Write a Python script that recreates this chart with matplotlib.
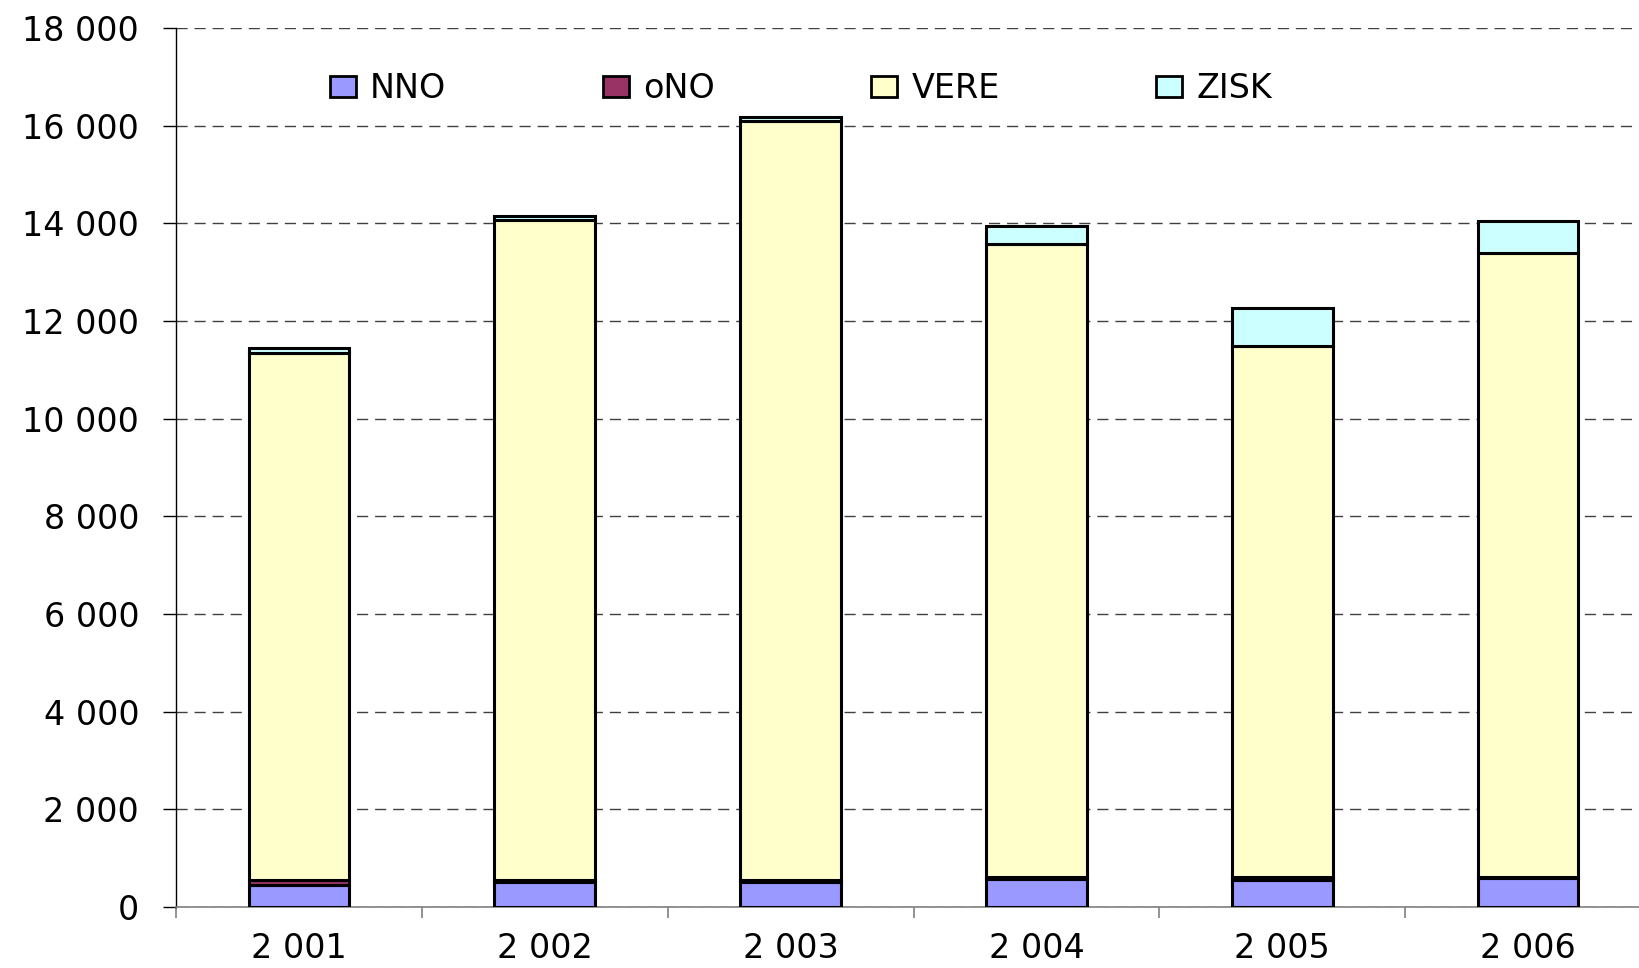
import numpy as np
import matplotlib.pyplot as plt
from matplotlib.ticker import FuncFormatter

years = ["2 001", "2 002", "2 003", "2 004", "2 005", "2 006"]
nno = [460, 512, 520, 567, 561, 594]
ono = [90, 40, 30, 50, 50, 12]
vere = [10796, 13516, 15540, 12961, 10873, 12784]
zisk = [110, 86, 95, 368, 778, 655]

names = ["NNO", "oNO", "VERE", "ZISK"]
colors = ["#9999FF", "#993366", "#FFFFCC", "#CCFFFF"]

plt.rcParams['font.family'] = ['DejaVu Sans']

fig = plt.figure(figsize=(16.39, 9.68), dpi=100)
ax = fig.add_axes([176 / 1639, 61 / 968, 1475 / 1639, 879 / 968])

x = np.arange(len(years))
bottom = np.zeros(len(years))
for name, vals, col in zip(names, [nno, ono, vere, zisk], colors):
    ax.bar(x, vals, 0.41, bottom=bottom, color=col, edgecolor='black',
           linewidth=2.2, label=name, zorder=3)
    bottom += np.array(vals)

ax.set_xlim(-0.5, 5.5)
ax.set_ylim(0, 18000)
ax.set_yticks(np.arange(0, 18001, 2000))
ax.yaxis.set_major_formatter(FuncFormatter(lambda v, p: f"{int(v):,}".replace(",", " ")))
ax.yaxis.grid(True, linestyle=(0, (8, 5)), color='#404040', linewidth=1, zorder=0)

ax.set_xticks(x)
ax.set_xticklabels(years)
ax.set_xticks(np.arange(-0.5, 6, 1), minor=True)
ax.tick_params(axis='x', which='major', length=0, pad=18, labelsize=24)
ax.tick_params(axis='x', which='minor', length=8, width=1.2, color='#808080')
ax.tick_params(axis='y', length=9.5, width=1, color='black', labelsize=24, pad=17)

for s in ['top', 'right']:
    ax.spines[s].set_visible(False)
ax.spines['left'].set_color('black')
ax.spines['left'].set_linewidth(1)
ax.spines['bottom'].set_color('#808080')
ax.spines['bottom'].set_linewidth(1.2)

leg = ax.legend(loc='center left', bbox_to_anchor=(0.1044, 0.931), ncol=4,
                frameon=False, fontsize=24, handlelength=0.78, handleheight=0.57,
                handletextpad=0.42, columnspacing=4.7, borderpad=0, borderaxespad=0)
for h in leg.legend_handles:
    h.set_linewidth(2)

fig.savefig("out.png", dpi=100)
